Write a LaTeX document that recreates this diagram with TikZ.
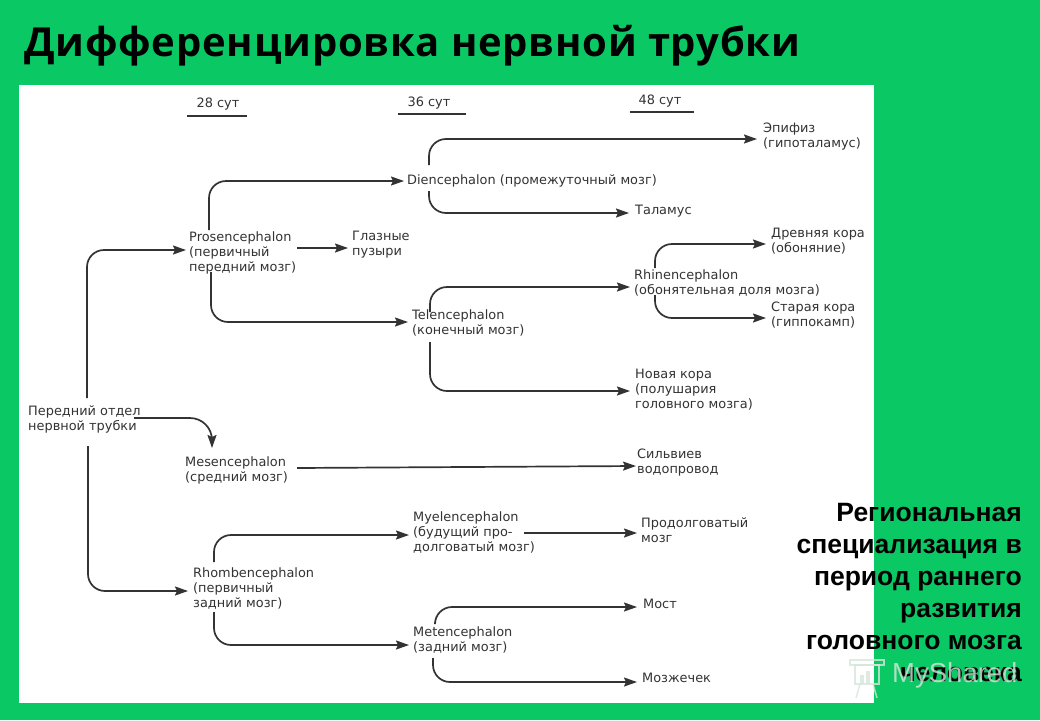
\documentclass[tikz,border=0pt]{standalone}
\usepackage{fontspec}
\setmainfont{Liberation Sans}
\newfontfamily\titlefont[LetterSpace=2]{Open Sans}
\newfontfamily\diagfont{DejaVu Sans}
\usetikzlibrary{arrows.meta}
\definecolor{bggreen}{HTML}{0AC864}
\definecolor{ink}{HTML}{333333}
\definecolor{wmcol}{HTML}{D6E6DC}
\tikzset{
 lbl/.style={align=left,inner sep=0pt,anchor=north west,text=ink,font=\diagfont\fontsize{12.9}{15}\selectfont},
 hdr/.style={inner sep=0pt,anchor=center,text=ink,font=\diagfont\fontsize{12.9}{15}\selectfont},
 conn/.style={draw=ink,line width=1.7pt,rounded corners=17pt,-{Stealth[length=13pt,width=9pt,inset=2pt]}},
 rule/.style={draw=ink,line width=1.3pt},
 sidetext/.style={align=right,inner sep=0pt,anchor=north east,text=black,font=\fontsize{26.5}{32}\selectfont\bfseries},
 wm/.style={wmcol,opacity=.8}
}
\begin{document}
\begin{tikzpicture}[x=1pt,y=-1pt]
\path[use as bounding box,fill=bggreen] (0,0) rectangle (1040,720);
\fill[white] (19,85) rectangle (874,703);
\node[inner sep=0pt,anchor=west,text=black,font=\fontsize{40}{44}\selectfont\titlefont\bfseries] (title) at (24,46) {Дифференцировка нервной трубки};
% headers
\node[hdr] (h28) at (218,104) {28 сут};
\node[hdr] (h36) at (429,103) {36 сут};
\node[hdr] (h48) at (660,101) {48 сут};
\draw[rule] (187,116) -- (247,116);
\draw[rule] (398,114) -- (466,114);
\draw[rule] (630,112) -- (694,112);
% labels
\node[lbl] (left) at (28,405) {Передний отдел\\нервной трубки};
\node[lbl] (pros) at (189,231) {Prosencephalon\\(первичный\\передний мозг)};
\node[lbl] (glaz) at (352,231) {Глазные\\пузыри};
\node[lbl] (dien) at (407,174) {Diencephalon (промежуточный мозг)};
\node[lbl] (tele) at (412,309) {Telencephalon\\(конечный мозг)};
\node[lbl] (epi) at (763,123) {Эпифиз\\(гипоталамус)};
\node[lbl] (thal) at (635,205) {Таламус};
\node[lbl] (rhin) at (634,269) {Rhinencephalon\\(обонятельная доля мозга)};
\node[lbl] (drev) at (771,228) {Древняя кора\\(обоняние)};
\node[lbl] (star) at (771,302) {Старая кора\\(гиппокамп)};
\node[lbl] (nova) at (635,369) {Новая кора\\(полушария\\головного мозга)};
\node[lbl] (mes) at (185,456) {Mesencephalon\\(средний мозг)};
\node[lbl] (sil) at (637,449) {Сильвиев\\водопровод};
\node[lbl] (rhom) at (193,567) {Rhombencephalon\\(первичный\\задний мозг)};
\node[lbl] (mye) at (413,511) {Myelencephalon\\(будущий про-\\долговатый мозг)};
\node[lbl] (met) at (413,626) {Metencephalon\\(задний мозг)};
\node[lbl] (prod) at (641,517) {Продолговатый\\мозг};
\node[lbl] (most) at (643,599) {Мост};
\node[lbl] (moz) at (642,673) {Мозжечек};
% connectors
\draw[conn] ([shift={(59,-7)}]left.north west) |- ([shift={(-3,19)}]pros.north west);
\draw[conn] ([shift={(60,41)}]left.north west) |- ([shift={(-5,24)}]rhom.north west);
\draw[conn,rounded corners=22pt] ([shift={(106,13)}]left.north west) -| ([shift={(27,-8)}]mes.north west);
\draw[conn] ([shift={(108,17)}]pros.north west) -- ([shift={(-4,17)}]glaz.north west);
\draw[conn] ([shift={(20,-1)}]pros.north west) |- ([shift={(-3,7)}]dien.north west);
\draw[conn] ([shift={(22,41)}]pros.north west) |- ([shift={(-4,13)}]tele.north west);
\draw[conn] ([shift={(22,-9)}]dien.north west) |- ([shift={(-6,16)}]epi.north west);
\draw[conn] ([shift={(22,17)}]dien.north west) |- ([shift={(-6,8)}]thal.north west);
\draw[conn] ([shift={(18,3)}]tele.north west) |- ([shift={(-4,18)}]rhin.north west);
\draw[conn] ([shift={(18,33)}]tele.north west) |- ([shift={(-5,22)}]nova.north west);
\draw[conn] ([shift={(21,-1)}]rhin.north west) |- ([shift={(-5,16)}]drev.north west);
\draw[conn] ([shift={(21,26)}]rhin.north west) |- ([shift={(-5,16)}]star.north west);
\draw[conn] ([shift={(112,12)}]mes.north west) -- ([shift={(-1,17)}]sil.north west);
\draw[conn] ([shift={(111,22)}]mye.north west) -- ([shift={(-4,16)}]prod.north west);
\draw[conn] ([shift={(21,-5)}]rhom.north west) |- ([shift={(-4,24)}]mye.north west);
\draw[conn] ([shift={(21,45)}]rhom.north west) |- ([shift={(-4,19)}]met.north west);
\draw[conn] ([shift={(22,-4)}]met.north west) |- ([shift={(-6,8)}]most.north west);
\draw[conn] ([shift={(20,32)}]met.north west) |- ([shift={(-5,9)}]moz.north west);
% side text
\node[sidetext] (side) at (1022,503) {Региональная\\специализация в\\период раннего\\развития\\головного мозга\\человека};
% watermark
\node[wm,inner sep=0pt,anchor=west,font=\fontsize{27.5}{30}\selectfont] (mark) at (892,675) {MyShared};
\draw[wm,line width=1.5pt] (850,660) rectangle (884,665);
\draw[wm,line width=1.5pt] (855,665) rectangle (879,684);
\fill[wm] (860,675) rectangle (864,684);
\fill[wm] (866,671) rectangle (870,684);
\draw[wm,line width=1.5pt] (860,684) -- (856,698) (873,684) -- (877,698);
\end{tikzpicture}
\end{document}
